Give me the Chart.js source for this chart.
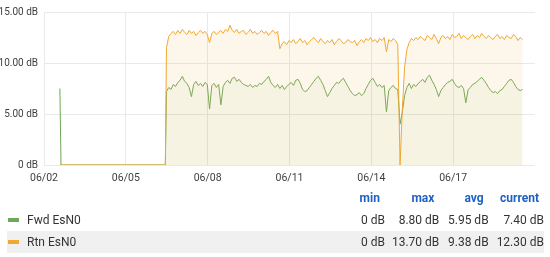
<!DOCTYPE html>
<html>
<head>
<meta charset="utf-8">
<script src="https://cdn.jsdelivr.net/npm/chart.js@4"></script>
<style>
  html, body { margin: 0; padding: 0; background: #fff; }
  body { width: 550px; height: 257px; position: relative; overflow: hidden; font-family: Roboto, "Noto Sans", sans-serif; }
  #wrap { position: absolute; left: 0; top: 0; width: 550px; height: 190px; }
  #legend { position: absolute; left: 7px; top: 187px; width: 537px; border-collapse: collapse; font-size: 12px; color: #333; }
  #legend td, #legend th { height: 22px; padding: 0; text-align: right; white-space: nowrap; }
  #legend th { color: #1f60c4; font-weight: bold; padding-right: 5px; }
  #legend td.name { text-align: left; padding-left: 1px; }
  #legend tr.alt td { background: #f0f0f0; }
  .sw { display: inline-block; width: 11px; height: 4px; vertical-align: middle; margin-right: 8px; margin-top: -2px; }
</style>
</head>
<body>
<div id="wrap"><canvas id="chart" width="550" height="190"></canvas></div>
<table id="legend"></table>
<script>
// hours after 06/02 00:00
const leadHours = [14, 15, 107];
const leadFwd = [7.5, 0, 0];
const leadRtn = [0, 0, 0];
const sampleStart = 108;
const sampleStep = 2;

const fwdValues = [
  7.2, 7.6, 7.4, 7.9, 7.7, 8.1, 8.3, 8.7, 8.2, 8.0,
  7.6, 6.7, 7.9, 8.2, 7.8, 8.0, 7.7, 8.1, 7.9, 5.5,
  7.8, 8.0, 7.6, 7.9, 5.9, 7.7, 8.1, 8.3, 8.0, 8.5,
  8.6, 8.2, 8.4, 8.1, 7.9, 7.8, 7.7, 7.9, 7.6, 7.8,
  7.7, 8.0, 7.9, 8.2, 8.4, 8.7, 8.1, 7.8, 7.6, 7.9,
  7.5, 7.8, 7.4, 7.7, 7.9, 8.1, 7.8, 8.3, 8.4, 8.0,
  7.4, 7.2, 7.3, 7.6, 7.9, 8.2, 8.5, 8.7, 8.3, 7.9,
  7.3, 6.7, 7.1, 7.5, 7.8, 8.1, 8.0, 8.3, 8.5, 8.1,
  7.7, 7.3, 7.0, 6.8, 6.9, 7.1, 6.8, 7.0, 7.5, 7.9,
  8.3, 8.5, 8.1, 7.7, 7.9, 7.6, 7.8, 5.2, 7.3, 7.6,
  7.8, 7.5, 7.4, 4.0, 5.2, 6.8, 7.6, 8.0, 7.5, 7.9,
  7.7, 8.0, 8.2, 8.4, 8.1, 8.6, 8.8, 8.3, 7.9, 7.4,
  6.7, 7.3, 7.6, 7.9, 8.1, 8.2, 8.4, 8.0, 7.7, 7.6,
  7.8, 7.5, 6.1, 7.4, 7.6, 7.9, 8.0, 8.2, 8.4, 8.6,
  8.3, 8.0, 7.6, 7.3, 7.1, 7.2, 7.0, 7.3, 7.4, 7.7,
  8.0, 8.3, 8.4, 8.1, 7.7, 7.4, 7.3, 7.4
];

const rtnValues = [
  11.5, 12.6, 12.9, 13.1, 12.8, 13.2, 12.9, 13.3, 13.0, 12.8,
  13.2, 12.9, 13.1, 12.7, 13.0, 13.2, 12.9, 13.1, 12.8, 12.0,
  12.9, 13.1, 12.8, 13.0, 13.2, 12.9, 13.3, 13.1, 13.7, 13.2,
  13.0, 13.3, 12.9, 13.1, 13.2, 12.8, 13.0, 13.3, 12.9, 13.1,
  12.8, 13.0, 13.2, 12.9, 13.1, 12.7, 13.0, 13.2, 12.9, 13.1,
  11.4, 11.9, 12.1, 11.8, 12.2, 12.0, 12.3, 11.9, 12.1, 12.4,
  12.0, 12.2, 11.8, 12.1, 12.3, 12.5, 12.2, 12.0, 12.4, 12.1,
  11.9, 12.2, 12.0, 12.3, 11.8, 12.1, 12.4, 12.2, 11.9, 12.0,
  12.3, 12.1, 12.0, 12.2, 11.7, 12.1, 12.3, 12.0, 12.4, 12.2,
  12.5, 12.1, 12.3, 12.0, 12.4, 12.2, 12.5, 11.1, 12.3, 12.1,
  12.4, 12.2, 11.8, 0, 5.5, 9.6, 11.3, 12.0, 12.4, 12.2,
  12.5, 12.3, 12.6, 12.4, 12.2, 12.7, 12.5, 12.3, 12.8, 12.4,
  11.9, 12.5, 12.7, 12.4, 12.6, 12.3, 12.8, 12.5, 12.6, 12.9,
  12.4, 12.7, 12.5, 12.3, 12.6, 12.8, 12.4, 12.7, 12.5, 12.9,
  12.6, 12.4, 12.7, 12.5, 12.3, 12.6, 12.8, 12.4, 12.6, 12.3,
  12.7, 12.5, 12.4, 12.8, 12.6, 12.2, 12.5, 12.3
];

const tickLabels = ['06/02', '06/05', '06/08', '06/11', '06/14', '06/17'];

const seriesNames = ['Fwd EsN0', 'Rtn EsN0'];
const statHeaders = ['min', 'max', 'avg', 'current'];
const fwdStats = ['0 dB', '8.80 dB', '5.95 dB', '7.40 dB'];
const rtnStats = ['0 dB', '13.70 dB', '9.38 dB', '12.30 dB'];

const GREEN = '#6fa85a';
const ORANGE = '#f0a830';

function buildPoints(lead, values) {
  const pts = leadHours.map((h, i) => ({ x: h, y: lead[i] }));
  values.forEach((v, i) => pts.push({ x: sampleStart + i * sampleStep, y: v }));
  return pts;
}

const fontFamily = 'Roboto, "Noto Sans", sans-serif';

new Chart(document.getElementById('chart'), {
  type: 'line',
  data: {
    datasets: [
      {
        label: seriesNames[1],
        data: buildPoints(leadRtn, rtnValues),
        borderColor: ORANGE,
        backgroundColor: 'rgba(240,168,48,0.1)',
        borderWidth: 1,
        pointRadius: 0,
        fill: 'origin',
        order: 0
      },
      {
        label: seriesNames[0],
        data: buildPoints(leadFwd, fwdValues),
        borderColor: GREEN,
        backgroundColor: 'rgba(111,168,90,0.05)',
        borderWidth: 1,
        pointRadius: 0,
        fill: 'origin',
        order: 1
      }
    ]
  },
  options: {
    responsive: false,
    animation: false,
    devicePixelRatio: 1,
    layout: { padding: { top: 11, right: 15, left: 0, bottom: 0 } },
    plugins: { legend: { display: false }, tooltip: { enabled: false } },
    scales: {
      x: {
        type: 'linear',
        min: 0,
        max: 433,
        afterBuildTicks: (axis) => { axis.ticks = axis.ticks.filter(t => t.value <= 430); },
        afterFit: (axis) => { axis.height = 25; },
        ticks: {
          stepSize: 72,
          color: '#3f3f3f',
          font: { family: fontFamily, size: 10.5 },
          padding: 7,
          maxRotation: 0,
          autoSkip: false,
          callback: (v) => tickLabels[Math.round(v / 72)]
        },
        grid: { color: '#e9e9e9', drawTicks: false },
        border: { display: false }
      },
      y: {
        min: 0,
        max: 15,
        afterFit: (axis) => { axis.width = 44; },
        ticks: {
          stepSize: 5,
          color: '#3f3f3f',
          font: { family: fontFamily, size: 10 },
          padding: 6,
          callback: (v) => v === 0 ? '0 dB' : v.toFixed(2) + ' dB'
        },
        grid: { color: '#e9e9e9', drawTicks: false },
        border: { display: false }
      }
    }
  }
});

// legend table
const legend = document.getElementById('legend');
let html = '<tr><th style="width:340px"></th>' +
  statHeaders.map((h, i) => '<th style="width:' + [50, 50, 45, 51][i] + 'px">' + h + '</th>').join('') + '</tr>';
[[seriesNames[0], GREEN, fwdStats, ''], [seriesNames[1], ORANGE, rtnStats, 'alt']].forEach(([name, col, stats, cls]) => {
  html += '<tr class="' + cls + '"><td class="name"><span class="sw" style="background:' + col + '"></span>' + name + '</td>' +
    stats.map(s => '<td>' + s + '</td>').join('') + '</tr>';
});
legend.innerHTML = html;
</script>
</body>
</html>
